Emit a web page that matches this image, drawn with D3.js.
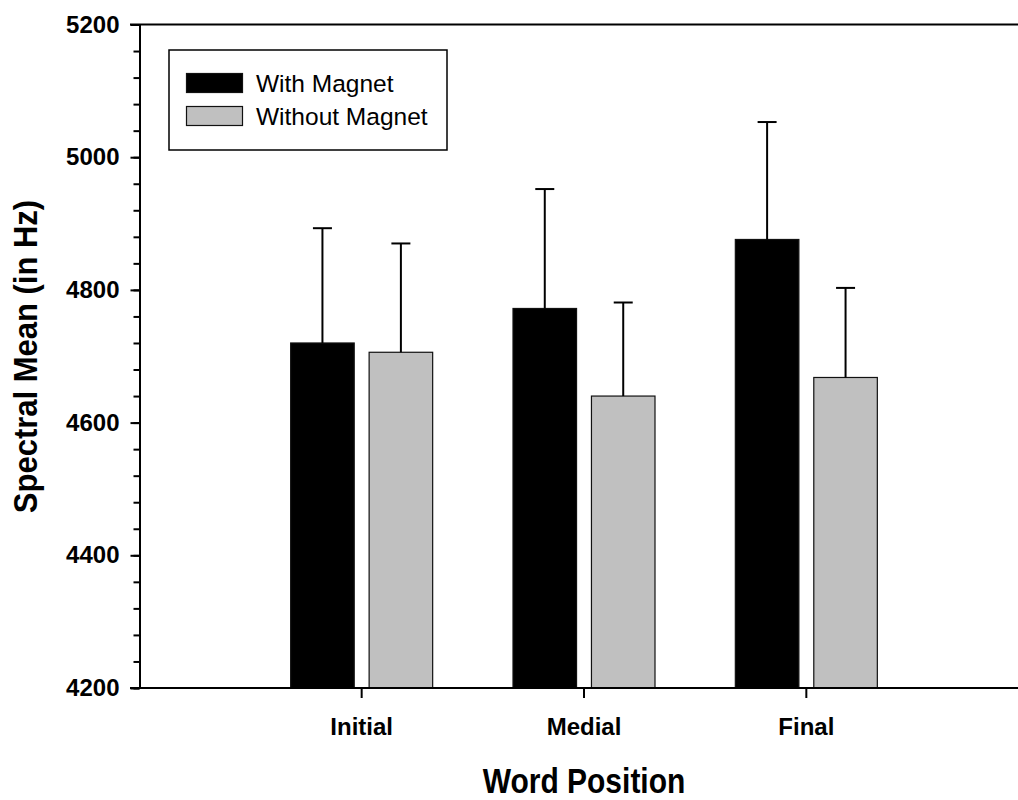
<!DOCTYPE html>
<html>
<head>
<meta charset="utf-8">
<script src="https://cdn.jsdelivr.net/npm/d3@7"></script>
<style>
  body { margin: 0; background: #fff; }
  svg { display: block; font-family: 'Liberation Sans', Arial, sans-serif; }
</style>
</head>
<body>
<svg id="chart"></svg>
<script>
const categories = ['Initial', 'Medial', 'Final'];
const series = ['With Magnet', 'Without Magnet'];
const withMagnet = [4720, 4772, 4876];
const withoutMagnet = [4706, 4640, 4668];
const withMagnetErr = [173, 180, 177];
const withoutMagnetErr = [164, 141, 135];
const yTicks = [4200, 4400, 4600, 4800, 5000, 5200];
const yMinorTicks = d3.range(4200, 5201, 40);

const width = 1018;
const height = 800;
const colors = {'With Magnet': '#000000', 'Without Magnet': '#c0c0c0'};

const svg = d3.select('#chart')
    .attr('width', width)
    .attr('height', height);

const plotLeft = 139.5, plotBottom = 688, plotTop = 24.5;

const yScale = d3.scaleLinear()
    .domain([4200, 5200])
    .range([plotBottom, plotTop]);
const xScale = d3.scaleBand()
    .domain(categories)
    .range([250.5, 917.5]);
const xSub = d3.scaleBand()
    .domain(series)
    .range([-71, 71])
    .paddingInner(0.19);

// table built from the arrays
const rows = [];
categories.forEach((c, i) => {
    rows.push({cat: c, s: series[0], v: withMagnet[i], e: withMagnetErr[i]});
    rows.push({cat: c, s: series[1], v: withoutMagnet[i], e: withoutMagnetErr[i]});
});
const xPos = d => xScale(d.cat) + xScale.bandwidth() / 2 + xSub(d.s);

// bars
svg.append('g').selectAll('rect').data(rows)
    .enter().append('rect')
        .attr('x', d => xPos(d))
        .attr('y', d => yScale(d.v))
        .attr('width', xSub.bandwidth())
        .attr('height', d => plotBottom - yScale(d.v))
        .attr('fill', d => colors[d.s])
        .attr('stroke', '#111')
        .attr('stroke-width', 1.2);

// error bars (upper only)
const err = svg.append('g').attr('stroke', '#000').attr('stroke-width', 2);
err.selectAll('line.stem').data(rows)
    .enter().append('line')
        .attr('class', 'stem')
        .attr('x1', d => xPos(d) + xSub.bandwidth() / 2)
        .attr('x2', d => xPos(d) + xSub.bandwidth() / 2)
        .attr('y1', d => yScale(d.v))
        .attr('y2', d => yScale(d.v + d.e));
err.selectAll('line.cap').data(rows)
    .enter().append('line')
        .attr('class', 'cap')
        .attr('x1', d => xPos(d) + xSub.bandwidth() / 2 - 9.5)
        .attr('x2', d => xPos(d) + xSub.bandwidth() / 2 + 9.5)
        .attr('y1', d => yScale(d.v + d.e))
        .attr('y2', d => yScale(d.v + d.e));

// y axis: minor ticks
const yMinor = svg.append('g')
    .attr('transform', `translate(${plotLeft},0)`)
    .call(d3.axisLeft(yScale).tickValues(yMinorTicks).tickSize(6).tickFormat(() => ''));
yMinor.select('.domain').remove();
yMinor.selectAll('line').attr('stroke', '#000').attr('stroke-width', 2);

const yAxis = svg.append('g')
    .attr('transform', `translate(${plotLeft},0)`)
    .call(d3.axisLeft(yScale).tickValues(yTicks).tickSize(9).tickPadding(11)
        .tickSizeOuter(0).tickFormat(d3.format('d')));
yAxis.select('.domain').attr('stroke-width', 2);
yAxis.selectAll('line').attr('stroke-width', 2);
yAxis.selectAll('text')
    .attr('font-size', 24)
    .attr('font-weight', 'bold')
    .attr('fill', '#000')
    .attr('font-family', "'Liberation Sans', Arial, sans-serif");

// top and bottom lines
svg.append('line')
    .attr('x1', 130).attr('x2', width)
    .attr('y1', yScale(5200)).attr('y2', yScale(5200))
    .attr('stroke', '#000').attr('stroke-width', 2);

const xAxis = svg.append('g')
    .attr('transform', `translate(0,${plotBottom})`)
    .call(d3.axisBottom(xScale).tickSize(10).tickPadding(20).tickSizeOuter(0));
xAxis.select('.domain').remove();
xAxis.selectAll('line').attr('stroke-width', 2);
xAxis.selectAll('text')
    .attr('font-size', 24)
    .attr('font-weight', 'bold')
    .attr('fill', '#000')
    .attr('font-family', "'Liberation Sans', Arial, sans-serif");
svg.append('line')
    .attr('x1', 130).attr('x2', width)
    .attr('y1', plotBottom).attr('y2', plotBottom)
    .attr('stroke', '#000').attr('stroke-width', 2);

// axis titles (the original type is a little stretched vertically)
svg.append('text')
    .attr('transform', 'translate(584,793) scale(1,1.15)')
    .attr('text-anchor', 'middle')
    .attr('font-size', 30)
    .attr('font-weight', 'bold')
    .text('Word Position');
svg.append('text')
    .attr('transform', 'translate(37,356.5) rotate(-90) scale(1,1.08)')
    .attr('text-anchor', 'middle')
    .attr('font-size', 31)
    .attr('font-weight', 'bold')
    .text('Spectral Mean (in Hz)');

// legend
const legend = svg.append('g');
legend.append('rect')
    .attr('x', 169).attr('y', 50)
    .attr('width', 278).attr('height', 100)
    .attr('fill', '#fff').attr('stroke', '#000').attr('stroke-width', 1.5);
series.forEach((s, i) => {
    legend.append('rect')
        .attr('x', 186.5).attr('y', 73.5 + i * 33)
        .attr('width', 56).attr('height', 19)
        .attr('fill', colors[s]).attr('stroke', '#111').attr('stroke-width', 1.2);
    legend.append('text')
        .attr('x', 256).attr('y', 92 + i * 33)
        .attr('font-size', 24.5)
        .text(s);
});
</script>
</body>
</html>
